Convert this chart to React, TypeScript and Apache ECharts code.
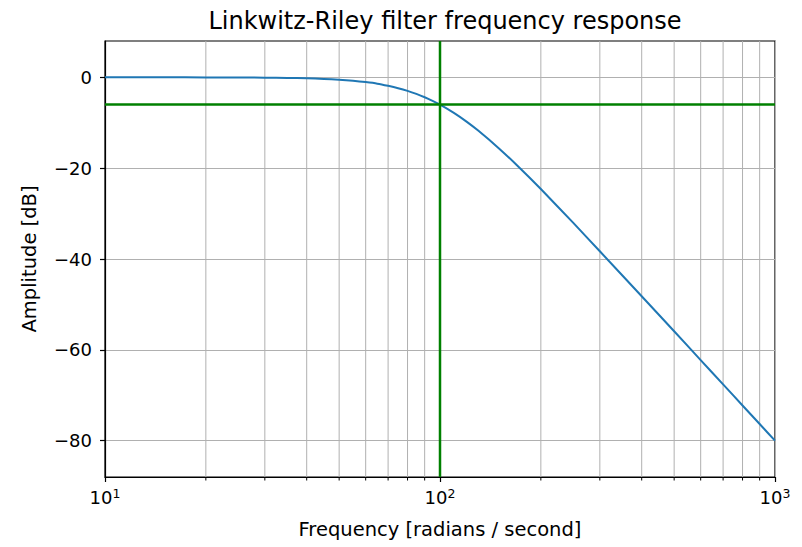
import React, { useEffect, useRef } from 'react';
import * as echarts from 'echarts';

const chartTitle = 'Linkwitz-Riley filter frequency response';
const xName = 'Frequency [radians / second]';
const yName = 'Amplitude [dB]';

const frequencies = [10, 15, 20, 25, 30, 35, 40, 45, 50, 55, 60, 65, 70, 75, 80, 85, 90, 95, 100, 110, 120, 130, 150, 170, 200, 250, 300, 400, 500, 600, 700, 800, 900, 1000];
const amplitudeDb = [0.0, 0.0, -0.01, -0.03, -0.07, -0.13, -0.22, -0.35, -0.53, -0.76, -1.05, -1.39, -1.87, -2.39, -2.98, -3.65, -4.38, -5.18, -6.02, -7.83, -9.75, -11.72, -15.65, -19.42, -24.6, -32.05, -38.3, -48.2, -55.9, -62.26, -67.61, -72.25, -76.34, -80.0];

const majorFreqs = [10, 100, 1000];
const minorFreqs = [20, 30, 40, 50, 60, 70, 80, 90, 200, 300, 400, 500, 600, 700, 800, 900];
const yTickValues = [-80, -60, -40, -20, 0];
const cutoffFreq = 100;
const cutoffDb = -6;
const yMin = -88;
const yMax = 8;
const xMin = 10;
const xMax = 1000;

export default function App() {
  const ref = useRef<HTMLDivElement>(null);
  useEffect(() => {
    const chart = echarts.init(ref.current!, null, { renderer: 'svg' });
    const font = 'DejaVu Sans';
    chart.setOption({
      animation: false,
      textStyle: { fontFamily: font },
      title: {
        text: chartTitle,
        left: 440,
        top: 4,
        textAlign: 'center',
        textStyle: { fontFamily: font, fontSize: 24, fontWeight: 'normal', color: '#000' },
      },
      grid: {
        left: 105, right: 27, top: 41, bottom: 70,
        show: true, borderColor: '#000', borderWidth: 1.2, backgroundColor: 'transparent',
      },
      xAxis: {
        type: 'log', logBase: 10, min: xMin, max: xMax,
        name: xName, nameLocation: 'middle', nameGap: 42,
        nameTextStyle: { fontSize: 19.5, color: '#000', fontFamily: font },
        axisLine: { show: true, onZero: false, lineStyle: { color: '#000', width: 1.2 } },
        axisTick: { show: true, length: 5, lineStyle: { color: '#000', width: 1.2 }, customValues: majorFreqs },
        axisLabel: {
          customValues: majorFreqs,
          margin: 10,
          formatter: (v: number) => `{b|10}{s|${Math.round(Math.log10(v))}}`,
          rich: {
            b: { fontSize: 18, color: '#000', fontFamily: font, lineHeight: 20 },
            s: { fontSize: 12.5, color: '#000', fontFamily: font, verticalAlign: 'top', lineHeight: 20 },
          },
        },
        splitLine: { show: true, lineStyle: { color: '#b0b0b0', width: 1 } },
        minorTick: { show: false },
        minorSplitLine: { show: false },
      },
      yAxis: {
        type: 'value', min: yMin, max: yMax,
        name: yName, nameLocation: 'middle', nameGap: 66,
        nameTextStyle: { fontSize: 19.5, color: '#000', fontFamily: font },
        axisLine: { show: true, onZero: false, lineStyle: { color: '#000', width: 1.2 } },
        axisTick: { show: true, length: 5, lineStyle: { color: '#000', width: 1.2 }, customValues: yTickValues },
        axisLabel: {
          customValues: yTickValues,
          margin: 13,
          fontSize: 18, color: '#000', fontFamily: font,
          formatter: (v: number) => String(v).replace('-', '\u2212'),
        },
        splitLine: { show: true, lineStyle: { color: '#b0b0b0', width: 1 } },
      },
      series: [
        {
          type: 'custom',
          silent: true,
          clip: false,
          z: 1,
          data: minorFreqs.map((f) => [f, yMin]),
          encode: { x: 0, y: 1 },
          renderItem: (params: any, api: any) => {
            const f = api.value(0);
            const top = api.coord([f, yMax]);
            const bot = api.coord([f, yMin]);
            return {
              type: 'group',
              children: [
                { type: 'line', shape: { x1: top[0], y1: top[1], x2: bot[0], y2: bot[1] }, style: { stroke: '#b0b0b0', lineWidth: 1 } },
                { type: 'line', shape: { x1: bot[0], y1: bot[1], x2: bot[0], y2: bot[1] + 3.5 }, style: { stroke: '#000', lineWidth: 1 } },
              ],
            };
          },
        },
        {
          type: 'line',
          z: 2,
          showSymbol: false,
          smooth: 0.2,
          silent: true,
          data: frequencies.map((f, i) => [f, amplitudeDb[i]]),
          lineStyle: { color: '#1f77b4', width: 2 },
          itemStyle: { color: '#1f77b4' },
        },
        {
          type: 'line',
          z: 3,
          showSymbol: false,
          silent: true,
          data: [[cutoffFreq, yMin], [cutoffFreq, yMax]],
          lineStyle: { color: '#008000', width: 2.5 },
          itemStyle: { color: '#008000' },
        },
        {
          type: 'line',
          z: 3,
          showSymbol: false,
          silent: true,
          data: [[xMin, cutoffDb], [xMax, cutoffDb]],
          lineStyle: { color: '#008000', width: 2.5 },
          itemStyle: { color: '#008000' },
        },
      ],
    });
    return () => chart.dispose();
  }, []);
  return <div ref={ref} style={{ position: 'absolute', left: 0, top: 0, width: 802, height: 547 }} />;
}
